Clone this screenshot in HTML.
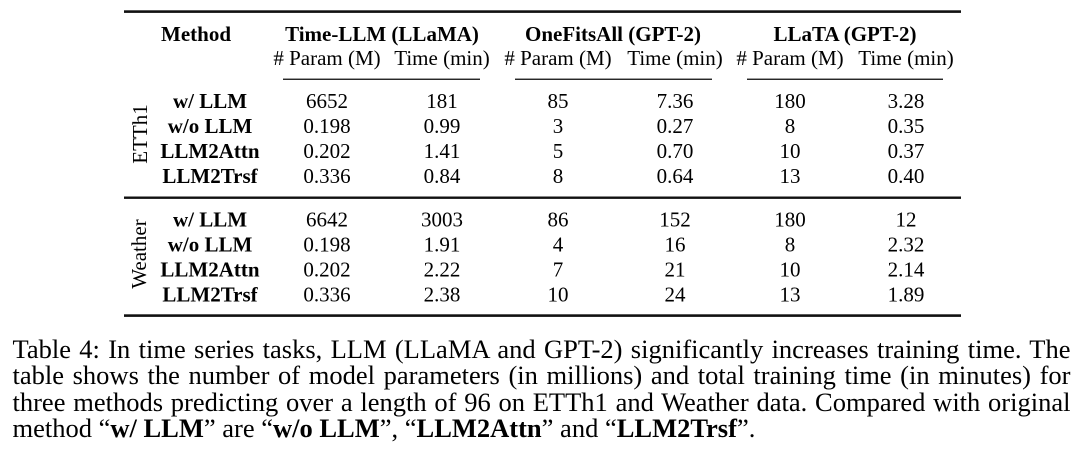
<!DOCTYPE html>
<html>
<head>
<meta charset="utf-8">
<style>
  html, body { margin:0; padding:0; background:#fff; }
  body { width:1080px; height:455px; position:relative; overflow:hidden; }
  svg { position:absolute; left:0; top:0; }
  .cap { position:absolute; left:12.5px; top:335.5px; width:1058px;
         font-family:"Liberation Serif", serif; font-size:26.5px; line-height:26.5px; color:#000; }
  .cap div { height:26.5px; white-space:normal; }
  .j { text-align:justify; text-align-last:justify; }
  .l { text-align:left; }
</style>
</head>
<body>
<svg width="1080" height="330" viewBox="0 0 1080 330" xmlns="http://www.w3.org/2000/svg">
  <g fill="#111">
    <rect x="124" y="10.3" width="837" height="2.6"/>
    <rect x="283" y="78.6" width="197" height="1.3"/>
    <rect x="515" y="78.6" width="197" height="1.3"/>
    <rect x="747" y="78.6" width="196" height="1.3"/>
    <rect x="124" y="196.5" width="837" height="2.4"/>
    <rect x="124" y="314.3" width="837" height="2.6"/>
  </g>
  <g font-family="Liberation Serif, serif" font-size="21" fill="#000">
    <!-- headers -->
    <text x="161" y="41" font-weight="bold">Method</text>
    <g font-weight="bold" text-anchor="middle">
      <text x="382" y="41">Time-LLM (LLaMA)</text>
      <text x="613" y="41">OneFitsAll (GPT-2)</text>
      <text x="845" y="41">LLaTA (GPT-2)</text>
    </g>
    <g text-anchor="middle">
      <text x="327" y="65"># Param (M)</text>
      <text x="442" y="65">Time (min)</text>
      <text x="558" y="65"># Param (M)</text>
      <text x="675" y="65">Time (min)</text>
      <text x="790" y="65"># Param (M)</text>
      <text x="906" y="65">Time (min)</text>
    </g>

    <!-- side labels -->
    <text transform="translate(147,134) rotate(-90)" text-anchor="middle">ETTh1</text>
    <text transform="translate(146,254) rotate(-90)" text-anchor="middle">Weather</text>

    <!-- method labels -->
    <g font-weight="bold" text-anchor="middle">
      <text x="210" y="108">w/ LLM</text>
      <text x="210" y="133">w/o LLM</text>
      <text x="210" y="158">LLM2Attn</text>
      <text x="210" y="183">LLM2Trsf</text>
      <text x="210" y="226.5">w/ LLM</text>
      <text x="210" y="251.5">w/o LLM</text>
      <text x="210" y="276.5">LLM2Attn</text>
      <text x="210" y="301.5">LLM2Trsf</text>
    </g>

    <!-- ETTh1 data -->
    <g text-anchor="middle">
      <text x="327" y="108">6652</text><text x="442" y="108">181</text>
      <text x="558" y="108">85</text><text x="675" y="108">7.36</text>
      <text x="790" y="108">180</text><text x="906" y="108">3.28</text>

      <text x="327" y="133">0.198</text><text x="442" y="133">0.99</text>
      <text x="558" y="133">3</text><text x="675" y="133">0.27</text>
      <text x="790" y="133">8</text><text x="906" y="133">0.35</text>

      <text x="327" y="158">0.202</text><text x="442" y="158">1.41</text>
      <text x="558" y="158">5</text><text x="675" y="158">0.70</text>
      <text x="790" y="158">10</text><text x="906" y="158">0.37</text>

      <text x="327" y="183">0.336</text><text x="442" y="183">0.84</text>
      <text x="558" y="183">8</text><text x="675" y="183">0.64</text>
      <text x="790" y="183">13</text><text x="906" y="183">0.40</text>

      <!-- Weather data -->
      <text x="327" y="226.5">6642</text><text x="442" y="226.5">3003</text>
      <text x="558" y="226.5">86</text><text x="675" y="226.5">152</text>
      <text x="790" y="226.5">180</text><text x="906" y="226.5">12</text>

      <text x="327" y="251.5">0.198</text><text x="442" y="251.5">1.91</text>
      <text x="558" y="251.5">4</text><text x="675" y="251.5">16</text>
      <text x="790" y="251.5">8</text><text x="906" y="251.5">2.32</text>

      <text x="327" y="276.5">0.202</text><text x="442" y="276.5">2.22</text>
      <text x="558" y="276.5">7</text><text x="675" y="276.5">21</text>
      <text x="790" y="276.5">10</text><text x="906" y="276.5">2.14</text>

      <text x="327" y="301.5">0.336</text><text x="442" y="301.5">2.38</text>
      <text x="558" y="301.5">10</text><text x="675" y="301.5">24</text>
      <text x="790" y="301.5">13</text><text x="906" y="301.5">1.89</text>
    </g>
  </g>
</svg>

<div class="cap">
  <div class="j">Table 4: In time series tasks, LLM (LLaMA and GPT-2) significantly increases training time. The</div>
  <div class="j">table shows the number of model parameters (in millions) and total training time (in minutes) for</div>
  <div class="j">three methods predicting over a length of 96 on ETTh1 and Weather data. Compared with original</div>
  <div class="l">method “<b>w/ LLM</b>” are “<b>w/o LLM</b>”, “<b>LLM2Attn</b>” and “<b>LLM2Trsf</b>”.</div>
</div>
</body>
</html>
